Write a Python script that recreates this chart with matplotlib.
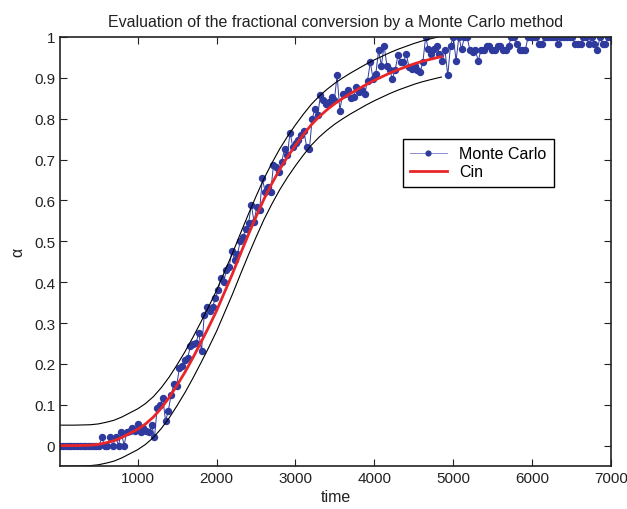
import numpy as np
import matplotlib
matplotlib.use("Agg")
import matplotlib.pyplot as plt

plt.rcParams['font.family'] = ['Liberation Sans', 'DejaVu Sans']

# Monte Carlo samples (alpha), evenly spaced in time from 20 to 7000
mc_alpha = [
    0, 0, 0, 0, 0, 0, 0, 0, 0, 0, 0, 0, 0, 0, 0,
    0.02, 0, 0, 0.02, 0, 0.02, 0, 0.034, 0, 0.034,
    0.036, 0.044, 0.036, 0.054, 0.034, 0.044, 0.036, 0.034, 0.05, 0.02,
    0.093, 0.10, 0.117, 0.06, 0.085, 0.124, 0.15, 0.146, 0.19, 0.194,
    0.21, 0.215, 0.243, 0.249, 0.25, 0.276, 0.232, 0.32, 0.34, 0.33,
    0.34, 0.36, 0.381, 0.41, 0.40, 0.43, 0.438, 0.476, 0.454, 0.468,
    0.50, 0.511, 0.53, 0.544, 0.589, 0.548, 0.585, 0.576, 0.654, 0.621,
    0.633, 0.62, 0.686, 0.682, 0.67, 0.694, 0.727, 0.71, 0.766, 0.731,
    0.74, 0.747, 0.759, 0.77, 0.731, 0.727, 0.80, 0.824, 0.81, 0.857,
    0.845, 0.837, 0.84, 0.853, 0.845, 0.906, 0.82, 0.861, 0.86, 0.87,
    0.85, 0.853, 0.877, 0.865, 0.87, 0.86, 0.893, 0.938, 0.898, 0.91,
    0.967, 0.93, 0.979, 0.93, 0.918, 0.898, 0.92, 0.955, 0.94, 0.938,
    0.959, 0.926, 0.922, 0.93, 0.918, 0.914, 0.938, 1.0, 0.97, 0.959,
    0.97, 0.979, 0.959, 0.942, 0.967, 0.906, 0.979, 1.0, 0.942, 1.0,
    0.97, 1.0, 1.0, 0.967, 0.963, 0.967, 0.942, 0.967, 0.967, 0.979,
    0.979, 0.967, 0.967, 0.979, 0.979, 0.967, 0.967, 0.979, 1.0, 1.0,
    0.983, 0.967, 0.967, 0.967, 1.0, 1.0, 1.0, 1.0, 0.983, 0.983,
    1.0, 1.0, 1.0, 1.0, 1.0, 0.983, 1.0, 1.0, 1.0, 1.0,
    1.0, 0.983, 0.983, 0.983, 1.0, 1.0, 0.983, 1.0, 0.983, 0.967,
    1.0, 0.983, 0.983, 1.0, 1.0,
]
mc_time = np.linspace(20, 7000, len(mc_alpha))

# kinetic model curve (Cin)
cin_time = [0, 200, 400, 500, 600, 700, 800, 900, 1000, 1100, 1200, 1300,
            1400, 1500, 1600, 1700, 1800, 1900, 2000, 2100, 2200, 2300,
            2400, 2500, 2600, 2700, 2800, 2900, 3000, 3100, 3200, 3300,
            3400, 3500, 3600, 3700, 3800, 3900, 4000, 4100, 4200, 4300,
            4400, 4500, 4600, 4700, 4850]
cin_alpha = [0, 0, 0.001, 0.003, 0.007, 0.012, 0.02, 0.03, 0.04, 0.053,
             0.07, 0.092, 0.118, 0.148, 0.18, 0.215, 0.252, 0.29, 0.33,
             0.375, 0.42, 0.468, 0.515, 0.56, 0.603, 0.641, 0.676, 0.707,
             0.735, 0.761, 0.785, 0.805, 0.822, 0.837, 0.85, 0.862, 0.873,
             0.884, 0.894, 0.903, 0.912, 0.92, 0.927, 0.934, 0.94, 0.945,
             0.952]
band = 0.05

fig = plt.figure(figsize=(6.27, 5.10), dpi=100)
ax = fig.add_axes([0.0957, 0.0843, 0.8788, 0.8412])

ax.plot(mc_time, mc_alpha, '-o', color='#2e3a9e', lw=0.7, ms=4.3,
        mec='#2e3a9e', label='Monte Carlo')
ax.plot(cin_time, cin_alpha, color='#e8262a', lw=2, label='Cin')
cin = np.array(cin_alpha)
ax.plot(cin_time, cin + band, color='black', lw=0.8)
ax.plot(cin_time, cin - band, color='black', lw=0.8)

ax.set_xlim(15, 7000)
ax.set_ylim(-0.05, 1)
ax.set_xticks([1000, 2000, 3000, 4000, 5000, 6000, 7000])
ax.set_yticks(np.arange(0, 1.01, 0.1))
ax.set_yticklabels(['0', '0.1', '0.2', '0.3', '0.4', '0.5', '0.6', '0.7',
                    '0.8', '0.9', '1'])
ax.tick_params(direction='in', top=True, right=True, labelsize=11,
               length=5, colors='#222222')
for s in ax.spines.values():
    s.set_linewidth(1.2)
    s.set_color('#222222')

ax.set_xlabel('time', fontsize=11.5, labelpad=3, color='#222222')
ax.set_ylabel('α', fontsize=11.5, labelpad=6, color='#222222')
ax.set_title('Evaluation of the fractional conversion by a Monte Carlo method',
             fontsize=11.5, pad=8, color='#222222')

leg = ax.legend(loc='upper left', bbox_to_anchor=(0.622, 0.762), fontsize=11.5,
                fancybox=False, edgecolor='black', framealpha=1,
                borderpad=0.45, labelspacing=0.2, handlelength=2.3,
                markerscale=0.8, borderaxespad=0)
leg.get_frame().set_linewidth(1.0)
leg.get_lines()[0].set_color('#8a90d0')
leg.get_lines()[0].set_markerfacecolor('#2e3a9e')

fig.savefig('out.png', dpi=100)
